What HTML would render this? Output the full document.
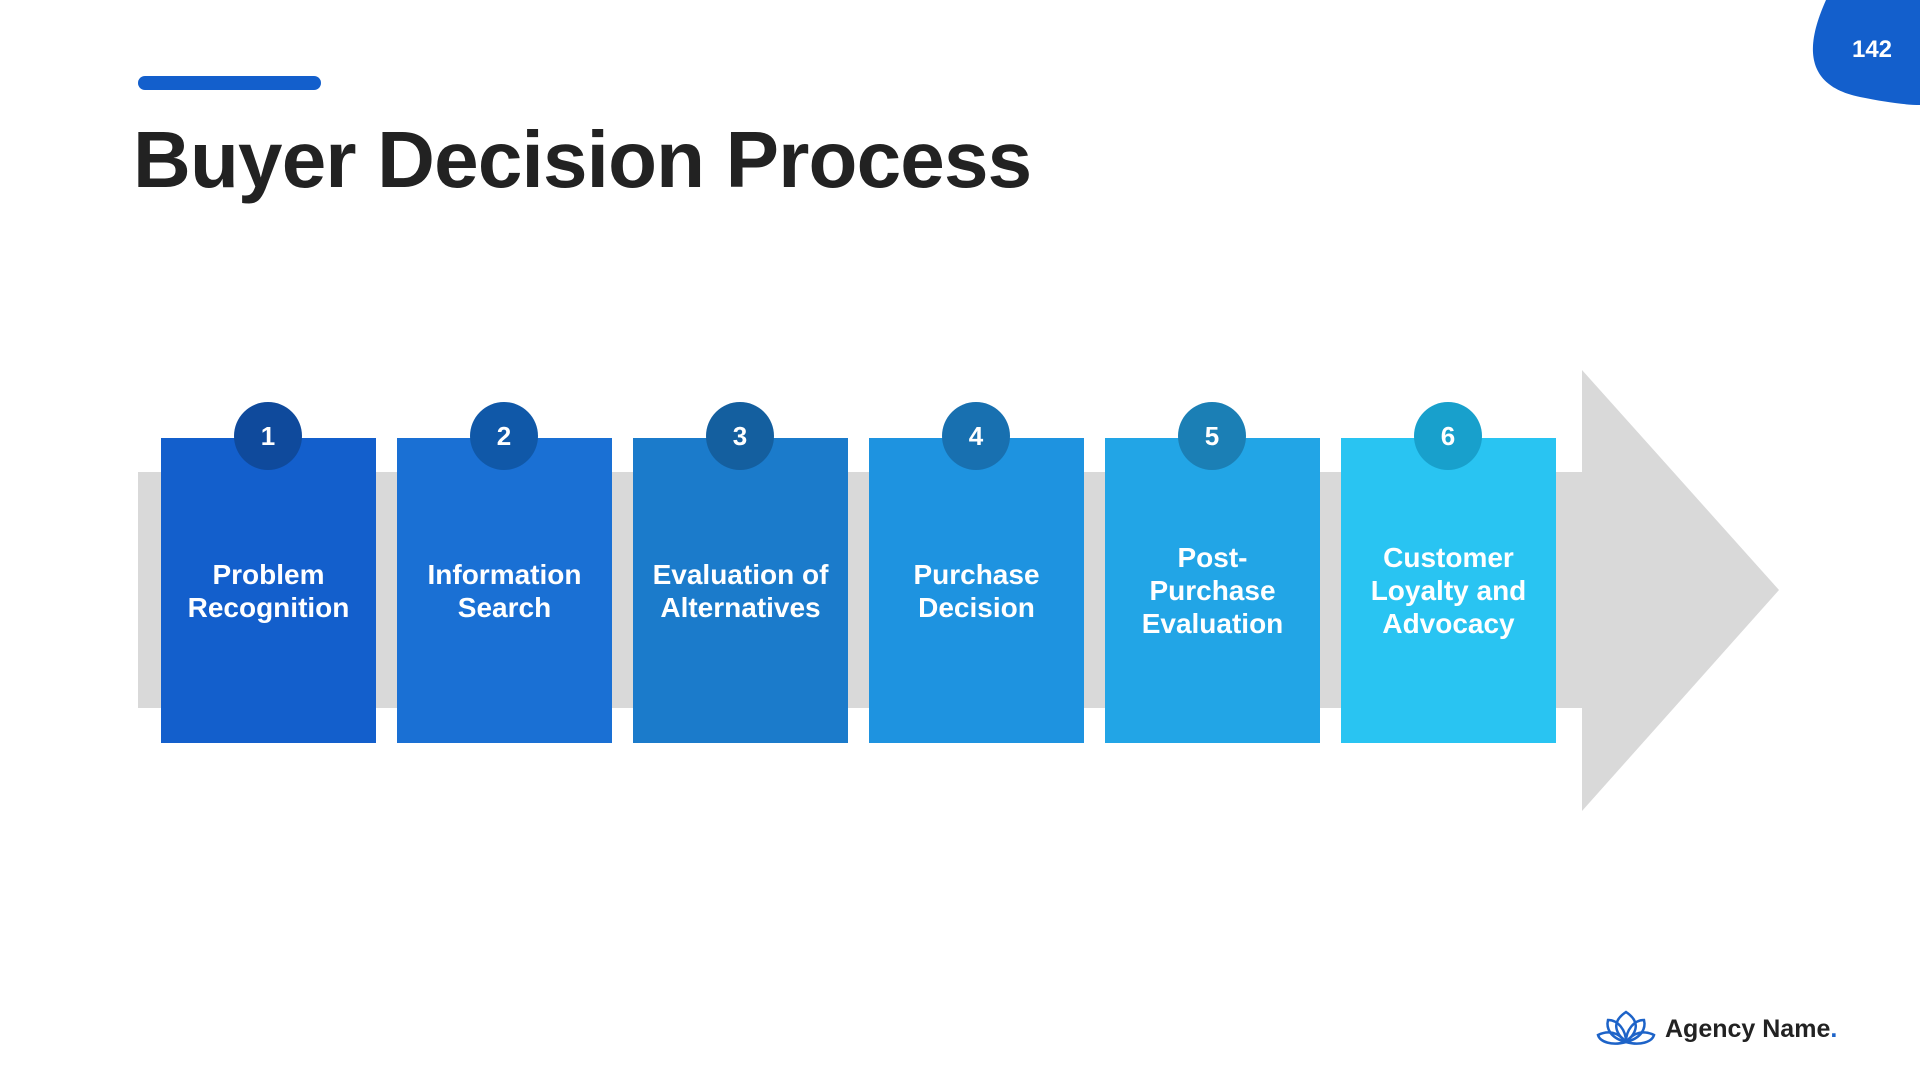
<!DOCTYPE html>
<html><head><meta charset="utf-8"><style>
*{margin:0;padding:0;box-sizing:border-box}
body{width:1920px;height:1080px;background:#fff;position:relative;overflow:hidden;font-family:"Liberation Sans",sans-serif;font-weight:bold}
.bar{position:absolute;left:138px;top:76px;width:183px;height:14px;border-radius:7px;background:#135fcc}
h1{position:absolute;left:133px;top:120px;font-size:80px;color:#222;letter-spacing:-0.8px;line-height:1}
.box{position:absolute;top:438px;width:215px;height:305px;color:#fff;display:flex;align-items:center;justify-content:center;text-align:center;font-size:28px;line-height:33px}
.c{position:absolute;top:402px;width:68px;height:68px;border-radius:50%;color:#fff;font-size:26px;display:flex;align-items:center;justify-content:center}
</style></head><body>
<svg width="1920" height="1080" style="position:absolute;left:0;top:0">
<rect x="138" y="472" width="1450" height="236" fill="#d9d9d9"/>
<polygon points="1582,370 1779,590 1582,811" fill="#d9d9d9"/>
<path d="M1826,0 C1808,40 1800,85 1860,97 C1885,102 1905,105 1920,105 L1920,0 Z" fill="#135fcc"/>
<g fill="none" stroke="#1d63c8" stroke-width="2.5">
<path d="M1626,1042 C1612,1030 1614,1020 1626,1012 C1638,1020 1640,1030 1626,1042Z"/>
<path d="M1626,1042 C1610,1038 1606,1028 1608,1020 C1618,1020 1626,1030 1626,1042Z"/>
<path d="M1626,1042 C1642,1038 1646,1028 1644,1020 C1634,1020 1626,1030 1626,1042Z"/>
<path d="M1626,1042 C1612,1046 1600,1042 1598,1035 C1608,1030 1618,1032 1626,1042Z"/>
<path d="M1626,1042 C1640,1046 1652,1042 1654,1035 C1644,1030 1634,1032 1626,1042Z"/>
</g>
</svg>
<div style="position:absolute;left:1847px;top:36px;width:50px;text-align:center;color:#fff;font-size:24px">142</div>
<div class="bar"></div>
<h1>Buyer Decision Process</h1>
<div class="box" style="left:161px;background:#135fcc"><span>Problem<br>Recognition</span></div>
<div class="box" style="left:397px;background:#1a70d4"><span>Information<br>Search</span></div>
<div class="box" style="left:633px;background:#1b7bcb"><span>Evaluation of<br>Alternatives</span></div>
<div class="box" style="left:869px;background:#1e93e0"><span>Purchase<br>Decision</span></div>
<div class="box" style="left:1105px;background:#22a5e6"><span>Post-<br>Purchase<br>Evaluation</span></div>
<div class="box" style="left:1341px;background:#29c4f2"><span>Customer<br>Loyalty and<br>Advocacy</span></div>
<div class="c" style="left:234px;background:#0f4a9c">1</div>
<div class="c" style="left:470px;background:#1058a8">2</div>
<div class="c" style="left:706px;background:#145f9f">3</div>
<div class="c" style="left:942px;background:#1870b0">4</div>
<div class="c" style="left:1178px;background:#1b7fb5">5</div>
<div class="c" style="left:1414px;background:#18a0cc">6</div>
<div style="position:absolute;left:1665px;top:1015px;font-size:25px;color:#222">Agency Name<span style="color:#1d63c8">.</span></div>
</body></html>
